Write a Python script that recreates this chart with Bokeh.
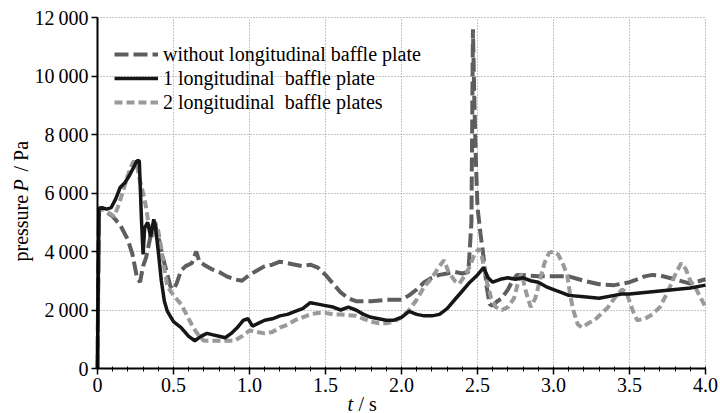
import math
from bokeh.plotting import figure
from bokeh.models import Legend, LegendItem, Label, FixedTicker, Range1d, LinearAxis, Grid
from bokeh.embed import file_html
from bokeh.resources import INLINE

# ---------------- data ----------------
t_without = [0.000, 0.005, 0.010, 0.03, 0.06, 0.10, 0.15, 0.20, 0.23, 0.26, 0.28, 0.30, 0.32, 0.34,
             0.36, 0.38, 0.40, 0.43, 0.46, 0.48, 0.50, 0.52, 0.55, 0.58, 0.62, 0.65, 0.67, 0.70,
             0.75, 0.80, 0.85, 0.90, 0.95, 1.00, 1.05, 1.10, 1.15, 1.20, 1.25, 1.30, 1.35, 1.40,
             1.45, 1.50, 1.55, 1.60, 1.65, 1.70, 1.80, 1.90, 2.00, 2.05, 2.10, 2.15, 2.20, 2.25,
             2.30, 2.35, 2.40, 2.44, 2.46, 2.47, 2.48, 2.49, 2.50, 2.52, 2.54, 2.56, 2.58, 2.60,
             2.63, 2.66, 2.70, 2.73, 2.76, 2.80, 2.90, 3.00, 3.10, 3.20, 3.30, 3.40, 3.50, 3.60,
             3.65, 3.70, 3.80, 3.90, 4.00]
p_without = [0, 3000, 5500, 5450, 5350, 5200, 4900, 4400, 3900, 3100, 2950, 3500, 3800, 4300,
             4800, 4900, 4500, 3800, 3200, 2800, 2700, 2900, 3350, 3500, 3600, 4000, 3650, 3550,
             3400, 3300, 3150, 3050, 3000, 3200, 3350, 3500, 3550, 3650, 3600, 3550, 3500, 3550,
             3450, 3200, 2900, 2600, 2400, 2300, 2300, 2350, 2350, 2500, 2700, 2950, 3100, 3200,
             3250, 3300, 3250, 3300, 5000, 11600, 9000, 7000, 5500, 4600, 3800, 2800, 2200, 2150,
             2300, 2400, 2700, 3000, 3200, 3200, 3150, 3150, 3150, 3000, 2880, 2850, 2950, 3150,
             3200, 3180, 3050, 2900, 3050]

t_one = [0.000, 0.005, 0.010, 0.03, 0.06, 0.09, 0.12, 0.15, 0.18, 0.21, 0.24, 0.26, 0.275, 0.29,
         0.30, 0.31, 0.33, 0.35, 0.37, 0.38, 0.40, 0.42, 0.44, 0.46, 0.50, 0.55, 0.60, 0.64,
         0.68, 0.72, 0.76, 0.80, 0.84, 0.88, 0.92, 0.96, 0.99, 1.02, 1.06, 1.10, 1.15, 1.20,
         1.25, 1.30, 1.35, 1.40, 1.45, 1.50, 1.55, 1.60, 1.65, 1.70, 1.75, 1.80, 1.85, 1.90,
         1.95, 2.00, 2.05, 2.10, 2.15, 2.20, 2.25, 2.30, 2.35, 2.40, 2.45, 2.50, 2.54, 2.57,
         2.60, 2.65, 2.70, 2.75, 2.80, 2.85, 2.90, 2.95, 3.00, 3.05, 3.10, 3.20, 3.30, 3.40,
         3.45, 3.50, 3.60, 3.70, 3.80, 3.90, 4.00]
p_one = [0, 3000, 5450, 5500, 5450, 5500, 5800, 6200, 6350, 6600, 6900, 7100, 7100, 5000,
         3900, 4800, 5000, 4500, 5100, 4900, 4000, 3000, 2300, 1950, 1600, 1400, 1100, 950,
         1100, 1200, 1150, 1100, 1050, 1200, 1400, 1650, 1700, 1450, 1550, 1650, 1700, 1800,
         1850, 1950, 2050, 2250, 2200, 2150, 2100, 2000, 2100, 2000, 1850, 1750, 1700, 1650,
         1650, 1750, 1950, 1850, 1800, 1800, 1850, 2050, 2350, 2650, 2950, 3200, 3450, 3100,
         2950, 3050, 3100, 3050, 3100, 3000, 2950, 2800, 2700, 2600, 2500, 2450, 2400, 2500,
         2550, 2550, 2600, 2650, 2700, 2750, 2850]

t_two = [0.000, 0.005, 0.010, 0.04, 0.08, 0.11, 0.14, 0.17, 0.20, 0.22, 0.24, 0.26, 0.28, 0.30,
         0.32, 0.34, 0.36, 0.38, 0.40, 0.42, 0.44, 0.46, 0.50, 0.55, 0.60, 0.63, 0.67, 0.70,
         0.80, 0.90, 0.95, 1.00, 1.05, 1.10, 1.15, 1.20, 1.25, 1.30, 1.35, 1.40, 1.45, 1.50,
         1.55, 1.60, 1.70, 1.75, 1.80, 1.85, 1.90, 1.95, 2.00, 2.05, 2.10, 2.15, 2.20, 2.25,
         2.28, 2.31, 2.35, 2.38, 2.42, 2.45, 2.48, 2.51, 2.53, 2.56, 2.59, 2.62, 2.66, 2.70,
         2.74, 2.77, 2.79, 2.82, 2.85, 2.88, 2.91, 2.94, 2.97, 3.00, 3.03, 3.06, 3.09, 3.11,
         3.13, 3.16, 3.19, 3.23, 3.27, 3.32, 3.36, 3.40, 3.45, 3.48, 3.52, 3.55, 3.60, 3.65,
         3.70, 3.75, 3.80, 3.84, 3.87, 3.90, 3.93, 3.96, 4.00]
p_two = [0, 3000, 5400, 5450, 5300, 5200, 5600, 6100, 6600, 6900, 7100, 6900, 6400, 6000,
         5500, 4800, 4500, 5000, 4700, 4100, 3400, 2800, 2500, 2200, 1700, 1400, 1100, 950,
         950, 950, 1100, 1300, 1250, 1200, 1250, 1400, 1500, 1650, 1750, 1850, 1900, 1900,
         1850, 1850, 1800, 1700, 1600, 1550, 1550, 1600, 1750, 2000, 2350, 2800, 3100, 3500,
         3700, 3300, 3000, 2900, 3200, 3500, 3900, 4100, 3800, 3000, 2400, 2100, 2000, 2100,
         2400, 3000, 3250, 2600, 2100, 2400, 3000, 3600, 3950, 4000, 3900, 3600, 3200, 2500,
         2000, 1500, 1400, 1550, 1650, 1900, 2100, 2400, 2700, 2600, 2000, 1650, 1700, 1850,
         2100, 2600, 3200, 3600, 3400, 3000, 2800, 2500, 2100]

series_names = ["without longitudinal baffle plate",
                "1 longitudinal  baffle plate",
                "2 longitudinal  baffle plates"]

x_ticks = [0, 0.5, 1.0, 1.5, 2.0, 2.5, 3.0, 3.5, 4.0]
x_tick_labels = ["0", "0.5", "1.0", "1.5", "2.0", "2.5", "3.0", "3.5", "4.0"]
x_minor_ticks = [i / 10 for i in range(41)]
y_ticks = [0, 2000, 4000, 6000, 8000, 10000, 12000]
y_tick_labels = ["0", "2\u2009000", "4\u2009000", "6\u2009000", "8\u2009000", "10\u2009000", "12\u2009000"]

# ---------------- layout (pixels) ----------------
W, H = 720, 413
FL, FR, FT, FB = 97, 705, 17, 368          # data-area edges in canvas pixels
XMIN, XMAX, YMIN, YMAX = 0.0, 4.0, 0.0, 12000.0
sx = (FR - FL) / (XMAX - XMIN)
sy = (FB - FT) / (YMAX - YMIN)
x_range = Range1d(XMIN - FL / sx, XMAX + (W - FR) / sx)
y_range = Range1d(YMIN - (H - FB) / sy, YMAX + FT / sy)

FONT = "'Liberation Serif', 'Times New Roman', serif"

p = figure(width=W, height=H, output_backend="svg", toolbar_location=None,
           x_range=x_range, y_range=y_range,
           x_axis_location=None, y_axis_location=None,
           min_border=0, min_border_left=0, min_border_right=0,
           min_border_top=0, min_border_bottom=0)
p.outline_line_color = None
p.background_fill_color = "white"
p.border_fill_color = "white"

# grid (limited to the data area)
for g in p.grid:
    g.grid_line_color = None
gx = Grid(dimension=0, ticker=FixedTicker(ticks=x_ticks), bounds=(XMIN, XMAX),
          grid_line_color="#8c8c8c", grid_line_dash="1 2", grid_line_width=1)
gy = Grid(dimension=1, ticker=FixedTicker(ticks=y_ticks), bounds=(YMIN, YMAX),
          grid_line_color="#8c8c8c", grid_line_dash="1 2", grid_line_width=1)
if "cross_bounds" in Grid.properties():
    gx.cross_bounds = (YMIN, YMAX)
    gy.cross_bounds = (XMIN, XMAX)
    p.add_layout(gx)
    p.add_layout(gy)
else:
    p.segment(x0=x_ticks, y0=[YMIN] * len(x_ticks), x1=x_ticks, y1=[YMAX] * len(x_ticks),
              line_color="#8c8c8c", line_dash="1 2", line_width=1)
    p.segment(x0=[XMIN] * len(y_ticks), y0=y_ticks, x1=[XMAX] * len(y_ticks), y1=y_ticks,
              line_color="#8c8c8c", line_dash="1 2", line_width=1)

# series
r_without = p.line(t_without, p_without, line_color="#5e5e5e", line_width=4, line_dash="14 5")
r_two = p.line(t_two, p_two, line_color="#9a9a9a", line_width=4, line_dash="8 4")
r_one = p.line(t_one, p_one, line_color="#161616", line_width=3.5)

# axes fixed at the data origin
xaxis = LinearAxis(fixed_location=YMIN, bounds=(XMIN, XMAX),
                   ticker=FixedTicker(ticks=x_ticks, minor_ticks=x_minor_ticks))
yaxis = LinearAxis(fixed_location=XMIN, bounds=(YMIN, YMAX),
                   ticker=FixedTicker(ticks=y_ticks))
xaxis.major_label_overrides = {float(k): v for k, v in zip(x_ticks, x_tick_labels)}
yaxis.major_label_overrides = {float(k): v for k, v in zip(y_ticks, y_tick_labels)}
for ax in (xaxis, yaxis):
    ax.axis_line_color = "black"
    ax.axis_line_width = 2
    ax.major_tick_line_color = "black"
    ax.major_tick_line_width = 1.5
    ax.major_tick_in = 0
    ax.major_tick_out = 6
    ax.major_label_text_font = FONT
    ax.major_label_text_font_size = "20px"
    ax.major_label_text_color = "black"
    ax.major_label_standoff = 3
xaxis.minor_tick_line_color = "black"
xaxis.minor_tick_line_width = 1
xaxis.minor_tick_in = 2
xaxis.minor_tick_out = 3
yaxis.minor_tick_line_color = None
p.add_layout(xaxis, "below")
p.add_layout(yaxis, "left")

# legend
legend = Legend(items=[LegendItem(label=series_names[0], renderers=[r_without]),
                       LegendItem(label=series_names[1], renderers=[r_one]),
                       LegendItem(label=series_names[2], renderers=[r_two])],
                location=(114, H - 114))
legend.background_fill_alpha = 0
legend.border_line_color = None
legend.padding = 0
legend.margin = 0
legend.spacing = 0
legend.glyph_width = 44
legend.glyph_height = 24
legend.label_height = 24
legend.label_standoff = 5
legend.label_text_font = FONT
legend.label_text_font_size = "20px"
legend.label_text_color = "black"
p.add_layout(legend)

# axis titles (mixed italic), canvas pixel positions
def lab(text, x, y_from_top, style="normal", angle=0.0, align="left"):
    p.add_layout(Label(x=x, y=H - y_from_top, x_units="screen", y_units="screen", text=text,
                       text_font=FONT, text_font_size="20px", text_font_style=style,
                       text_color="black", angle=angle, text_align=align,
                       text_baseline="middle"))

lab("pressure", 20, 261, angle=math.pi / 2)
lab("P", 20, 191, style="italic", angle=math.pi / 2)
lab("/ Pa", 20, 171, angle=math.pi / 2)
lab("t", 347, 403, style="italic")
lab("/ s", 358, 403)

open("out.html", "w").write(file_html(p, INLINE))
